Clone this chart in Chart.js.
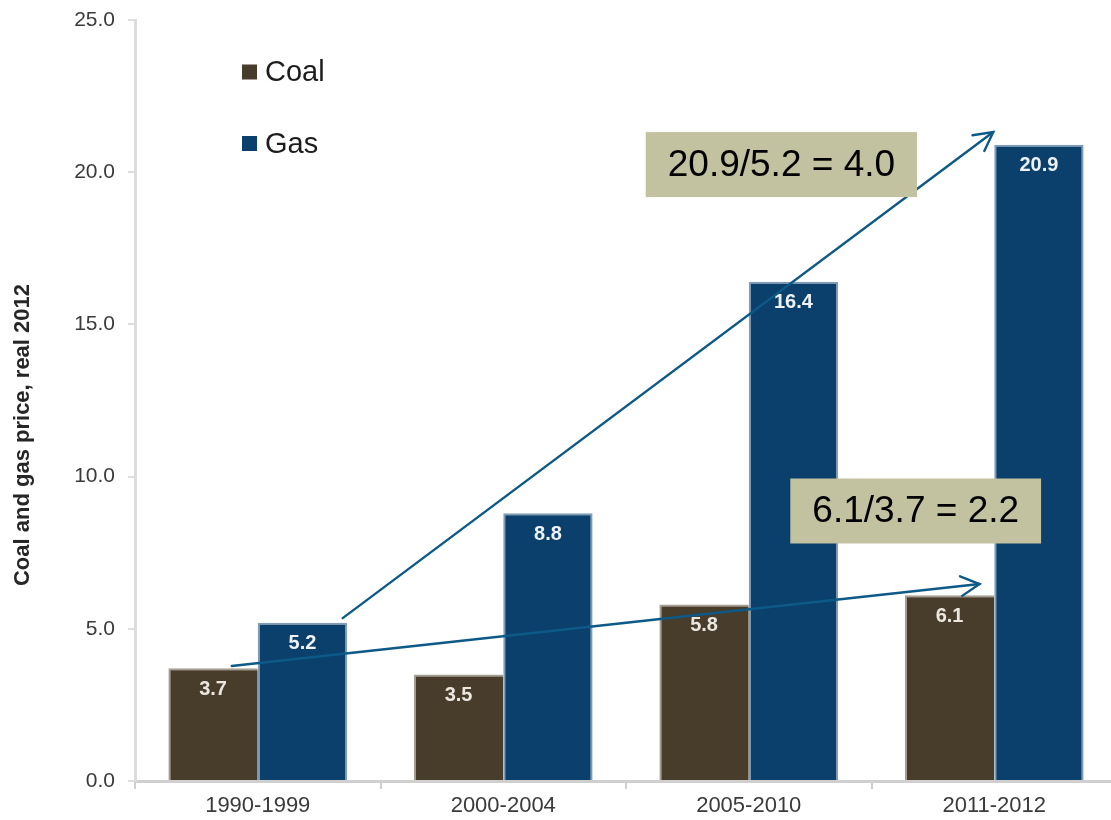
<!DOCTYPE html>
<html>
<head>
<meta charset="utf-8">
<title>Coal and gas price</title>
<script src="https://cdn.jsdelivr.net/npm/chart.js@4.4.1/dist/chart.umd.min.js"></script>
<style>
  html, body { margin: 0; padding: 0; background: #ffffff; overflow: hidden; }
  #wrap { position: relative; width: 1111px; height: 820px; overflow: hidden; }
  #chart { display: block; }
</style>
</head>
<body>
<div id="wrap"><canvas id="chart" width="1117" height="820"></canvas></div>
<script>
// Price periods and values (real 2012)
const categories = ['1990-1999', '2000-2004', '2005-2010', '2011-2012'];
const coalPrice = [3.7, 3.5, 5.8, 6.1];
const gasPrice = [5.2, 8.8, 16.4, 20.9];
const seriesNames = ['Coal', 'Gas'];
const yAxisTitle = 'Coal and gas price, real 2012';

// Ratio call-outs: text, centre (category index, value)
const ratioNotes = [
  { text: '20.9/5.2 = 4.0', at: [2.133, 20.25] },
  { text: '6.1/3.7 = 2.2', at: [2.68, 8.87] }
];
// Trend arrows: from / to in (category index, value)
const trendArrows = [
  { from: [0.346, 5.35], to: [2.996, 21.32] },
  { from: [-0.106, 3.78], to: [2.94, 6.47] }
];

const FONT = "Arial, 'Liberation Sans', sans-serif";
const COAL = '#483c2a';
const GAS = '#0a406b';

function idxToPx(xs, i) {
  const p0 = xs.getPixelForValue(0);
  const p1 = xs.getPixelForValue(1);
  return p0 + (p1 - p0) * i;
}

const overlay = {
  id: 'overlay',
  afterDatasetsDraw(chart) {
    const ctx = chart.ctx;
    const xs = chart.scales.x, ys = chart.scales.y;

    // value labels inside bar tops
    ctx.save();
    ctx.font = 'bold 20px ' + FONT;
    ctx.textAlign = 'center';
    ctx.textBaseline = 'middle';
    chart.data.datasets.forEach((ds, di) => {
      chart.getDatasetMeta(di).data.forEach((bar, i) => {
        ctx.fillStyle = di === 0 ? '#ece8e0' : '#eef2f6';
        ctx.fillText(ds.data[i].toFixed(1), bar.x, bar.y + 21);
      });
    });
    ctx.restore();

    // trend arrows
    ctx.save();
    ctx.strokeStyle = '#0d5987';
    ctx.lineWidth = 2.4;
    ctx.lineCap = 'round';
    trendArrows.forEach(a => {
      const x1 = idxToPx(xs, a.from[0]), y1 = ys.getPixelForValue(a.from[1]);
      const x2 = idxToPx(xs, a.to[0]), y2 = ys.getPixelForValue(a.to[1]);
      ctx.beginPath();
      ctx.moveTo(x1, y1);
      ctx.lineTo(x2, y2);
      ctx.stroke();
      const ang = Math.atan2(y2 - y1, x2 - x1);
      const len = 21, spread = 28 * Math.PI / 180;
      ctx.beginPath();
      ctx.moveTo(x2 - len * Math.cos(ang - spread), y2 - len * Math.sin(ang - spread));
      ctx.lineTo(x2, y2);
      ctx.lineTo(x2 - len * Math.cos(ang + spread), y2 - len * Math.sin(ang + spread));
      ctx.stroke();
    });
    ctx.restore();

    // ratio call-out boxes
    ctx.save();
    ctx.font = '37px ' + FONT;
    ctx.textAlign = 'center';
    ctx.textBaseline = 'middle';
    ratioNotes.forEach(n => {
      const cx = idxToPx(xs, n.at[0]), cy = ys.getPixelForValue(n.at[1]);
      const w = ctx.measureText(n.text).width + 44;
      const h = 65;
      ctx.fillStyle = '#c2c1a0';
      ctx.fillRect(cx - w / 2, cy - h / 2, w, h);
      ctx.fillStyle = '#000000';
      ctx.fillText(n.text, cx, cy + 1);
    });
    ctx.restore();

    // legend
    ctx.save();
    const legendRows = [{ y: 72, color: COAL }, { y: 143.5, color: GAS }];
    ctx.font = '29px ' + FONT;
    ctx.textBaseline = 'middle';
    ctx.textAlign = 'left';
    legendRows.forEach((r, i) => {
      ctx.fillStyle = r.color;
      ctx.fillRect(242, r.y - 7.5, 15, 15);
      ctx.fillStyle = '#1c1c1c';
      ctx.fillText(seriesNames[i], 265, r.y + 1);
    });
    ctx.restore();

    // y-axis title
    ctx.save();
    ctx.translate(23, 435);
    ctx.rotate(-Math.PI / 2);
    ctx.font = 'bold 22px ' + FONT;
    ctx.fillStyle = '#262626';
    ctx.textAlign = 'center';
    ctx.textBaseline = 'middle';
    ctx.fillText(yAxisTitle, 0, 0);
    ctx.restore();
  }
};

new Chart(document.getElementById('chart'), {
  type: 'bar',
  data: {
    labels: categories,
    datasets: [
      {
        label: seriesNames[0],
        data: coalPrice,
        backgroundColor: COAL,
        borderColor: '#a49e92',
        borderWidth: { top: 2, left: 2, right: 0, bottom: 0 },
        borderSkipped: 'bottom'
      },
      {
        label: seriesNames[1],
        data: gasPrice,
        backgroundColor: GAS,
        borderColor: '#7f9cb6',
        borderWidth: { top: 2, left: 2, right: 2, bottom: 0 },
        borderSkipped: 'bottom'
      }
    ]
  },
  options: {
    responsive: false,
    animation: false,
    devicePixelRatio: 1,
    layout: { padding: { top: 20, right: 0, bottom: 0, left: 0 } },
    datasets: {
      bar: { categoryPercentage: 0.728, barPercentage: 1.0 }
    },
    plugins: {
      legend: { display: false },
      tooltip: { enabled: false },
      title: { display: false }
    },
    scales: {
      x: {
        offset: true,
        grid: {
          display: true,
          offset: true,
          drawOnChartArea: false,
          drawTicks: true,
          tickLength: 8,
          color: '#cfcfcf',
          lineWidth: 2
        },
        border: { display: true, color: '#cfcfcf', width: 3 },
        ticks: {
          color: '#3a3a3a',
          font: { family: FONT, size: 22 },
          padding: 4,
          maxRotation: 0
        },
        afterFit(scale) { scale.height = 39; }
      },
      y: {
        min: 0,
        max: 25,
        ticks: {
          stepSize: 5,
          color: '#3a3a3a',
          font: { family: FONT, size: 21 },
          padding: 13,
          callback: v => Number(v).toFixed(1)
        },
        grid: {
          display: true,
          drawOnChartArea: false,
          drawTicks: true,
          tickLength: 7,
          color: '#dedede',
          lineWidth: 2
        },
        border: { display: true, color: '#dcdcdc', width: 3 },
        afterFit(scale) {
          scale.width = 135;
          scale.paddingTop = 0;
          scale.paddingBottom = 0;
        }
      }
    }
  },
  plugins: [overlay]
});
</script>
</body>
</html>
